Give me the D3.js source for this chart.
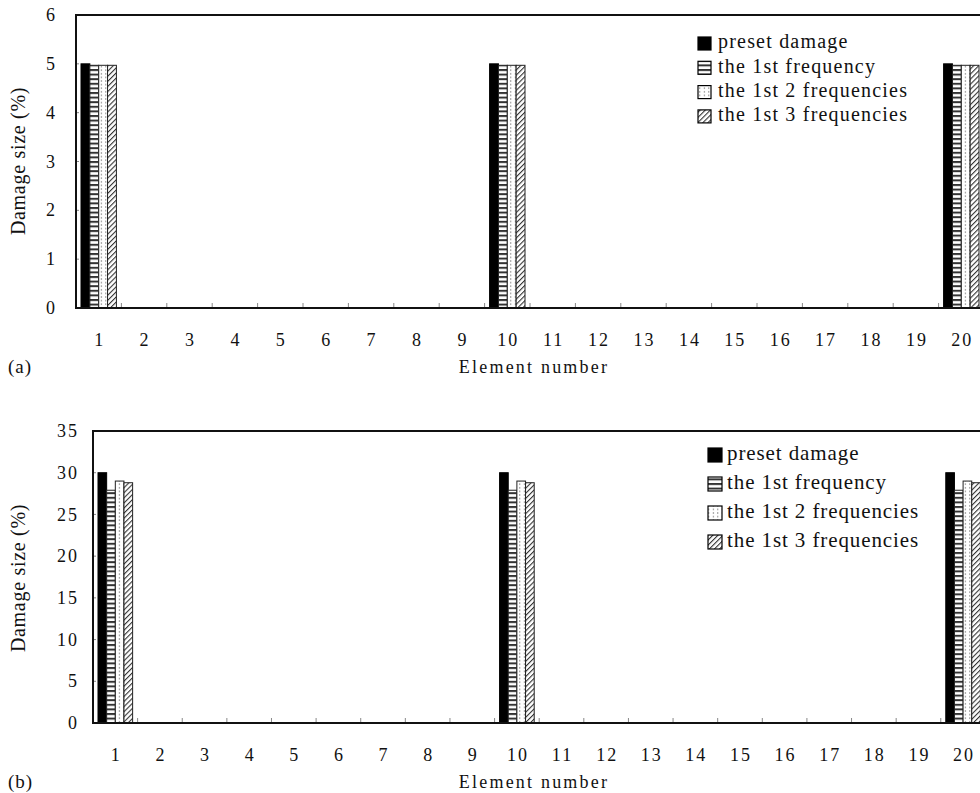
<!DOCTYPE html>
<html>
<head>
<meta charset="utf-8">
<script src="https://cdn.jsdelivr.net/npm/d3@7"></script>
<style>
  html, body { margin: 0; padding: 0; background: #fff; }
  svg { display: block; }
  text { font-family: "Liberation Serif", "Times New Roman", serif; fill: #111; }
</style>
</head>
<body>
<svg id="chart" width="980" height="793"></svg>
<script>
// Element numbers along the beam
const elements = ["1","2","3","4","5","6","7","8","9","10","11","12","13","14","15","16","17","18","19","20"];
const seriesNames = ["preset damage", "the 1st frequency", "the 1st 2 frequencies", "the 1st 3 frequencies"];

// Case (a): 5% damage in elements 1, 10 and 20
const aPreset = [5,0,0,0,0,0,0,0,0,5,0,0,0,0,0,0,0,0,0,5];
const aFreq1  = [4.97,0,0,0,0,0,0,0,0,4.97,0,0,0,0,0,0,0,0,0,4.97];
const aFreq2  = [4.97,0,0,0,0,0,0,0,0,4.97,0,0,0,0,0,0,0,0,0,4.97];
const aFreq3  = [4.97,0,0,0,0,0,0,0,0,4.97,0,0,0,0,0,0,0,0,0,4.97];
const aTicks  = [0,1,2,3,4,5,6];

// Case (b): 30% damage in elements 1, 10 and 20
const bPreset = [30,0,0,0,0,0,0,0,0,30,0,0,0,0,0,0,0,0,0,30];
const bFreq1  = [27.9,0,0,0,0,0,0,0,0,27.9,0,0,0,0,0,0,0,0,0,27.9];
const bFreq2  = [29.0,0,0,0,0,0,0,0,0,29.0,0,0,0,0,0,0,0,0,0,29.0];
const bFreq3  = [28.8,0,0,0,0,0,0,0,0,28.8,0,0,0,0,0,0,0,0,0,28.8];
const bTicks  = [0,5,10,15,20,25,30,35];

const svg = d3.select("#chart");
const defs = svg.append("defs");
const ink = "#222";

// Fill patterns for the four series
const pHoriz = defs.append("pattern").attr("id", "pat-horiz")
  .attr("patternUnits", "userSpaceOnUse").attr("width", 8).attr("height", 4.6);
pHoriz.append("rect").attr("width", 8).attr("height", 4.6).attr("fill", "#fff");
pHoriz.append("rect").attr("y", 0).attr("width", 8).attr("height", 2).attr("fill", "#333");

const pDots = defs.append("pattern").attr("id", "pat-dots")
  .attr("patternUnits", "userSpaceOnUse").attr("width", 4.5).attr("height", 3.6);
pDots.append("rect").attr("width", 4.5).attr("height", 3.6).attr("fill", "#fff");
pDots.append("rect").attr("x", 1.8).attr("y", 1.3).attr("width", 1).attr("height", 1).attr("fill", "#333");

const pHatch = defs.append("pattern").attr("id", "pat-hatch")
  .attr("patternUnits", "userSpaceOnUse").attr("width", 3.6).attr("height", 3.6)
  .attr("patternTransform", "rotate(45)");
pHatch.append("rect").attr("width", 3.6).attr("height", 3.6).attr("fill", "#fff");
pHatch.append("line").attr("x1", 0.5).attr("y1", 0).attr("x2", 0.5).attr("y2", 3.6)
  .attr("stroke", "#333").attr("stroke-width", 1.2);

const fills = ["#000", "url(#pat-horiz)", "url(#pat-dots)", "url(#pat-hatch)"];

function drawPanel(cfg) {
  const series = cfg.series;
  const g = svg.append("g");

  const x = d3.scaleBand().domain(elements)
    .range([cfg.left, cfg.left + cfg.step * elements.length])
    .paddingInner(0).paddingOuter(0);
  const xs = d3.scaleBand().domain(d3.range(series.length))
    .range([cfg.barPad, cfg.step - cfg.barPad]);
  const y = d3.scaleLinear().domain([0, cfg.yMax]).range([cfg.bottom, cfg.top]);

  // bars
  series.forEach((vals, si) => {
    g.append("g").selectAll("rect")
      .data(vals.map((v, i) => ({ v, e: elements[i] })).filter(d => d.v > 0))
      .join("rect")
      .attr("x", d => x(d.e) + xs(si))
      .attr("y", d => y(d.v))
      .attr("width", xs.bandwidth())
      .attr("height", d => y(0) - y(d.v))
      .attr("fill", fills[si])
      .attr("stroke", si === 0 ? "#000" : ink)
      .attr("stroke-width", 1);
  });

  // inward tick marks on the value axis
  g.append("g").selectAll("line").data(cfg.ticks).join("line")
    .attr("x1", cfg.left).attr("x2", cfg.left + 3)
    .attr("y1", d => y(d)).attr("y2", d => y(d))
    .attr("stroke", "#888").attr("stroke-width", 1);

  // inward tick marks between elements
  g.append("g").selectAll("line").data(elements.slice(1)).join("line")
    .attr("x1", d => x(d)).attr("x2", d => x(d))
    .attr("y1", cfg.bottom).attr("y2", cfg.bottom - 5)
    .attr("stroke", "#888").attr("stroke-width", 1);

  // frame: top, left and bottom lines
  g.append("path")
    .attr("d", `M${980},${cfg.top}H${cfg.left}V${cfg.bottom}H${980}`)
    .attr("fill", "none").attr("stroke", "#111").attr("stroke-width", 2);

  // value labels
  g.append("g").selectAll("text").data(cfg.ticks).join("text")
    .attr("x", cfg.valueLabelX).attr("y", d => y(d))
    .attr("dy", "0.34em").attr("text-anchor", "end")
    .style("font-size", "18px").style("letter-spacing", "2px")
    .text(d => d);

  // element labels
  g.append("g").selectAll("text").data(elements).join("text")
    .attr("x", d => x(d) + x.bandwidth() / 2 + 1).attr("y", cfg.bottom + 32)
    .attr("dy", "0.34em").attr("text-anchor", "middle")
    .style("font-size", "18px").style("letter-spacing", "2px")
    .text(d => d);

  g.append("text")
    .attr("x", cfg.titleX).attr("y", cfg.bottom + 59)
    .attr("dy", "0.34em").attr("text-anchor", "middle")
    .style("font-size", "18px").style("letter-spacing", "2.2px")
    .text("Element number");

  g.append("text")
    .attr("x", 8).attr("y", cfg.bottom + 59)
    .attr("dy", "0.34em")
    .style("font-size", "19px").style("letter-spacing", "1px")
    .text(cfg.tag);

  g.append("text")
    .attr("transform", `translate(18,${cfg.yLabelY}) rotate(-90)`)
    .attr("dy", "0.34em").attr("text-anchor", "middle")
    .style("font-size", "20px").style("letter-spacing", "0.7px")
    .text("Damage size (%)");

  // legend
  const lg = g.append("g");
  seriesNames.forEach((name, i) => {
    const yy = cfg.legendY + i * cfg.legendGap;
    lg.append("rect")
      .attr("x", cfg.legendX).attr("y", yy - 5)
      .attr("width", cfg.legendBox).attr("height", cfg.legendBox)
      .attr("fill", fills[i]).attr("stroke", "#000").attr("stroke-width", 1.2);
    lg.append("text")
      .attr("x", cfg.legendTextX).attr("y", yy)
      .attr("dy", "0.32em")
      .style("font-size", cfg.legendFont + "px").style("letter-spacing", cfg.legendSpacing + "px")
      .text(name);
  });
}

drawPanel({
  series: [aPreset, aFreq1, aFreq2, aFreq3],
  ticks: aTicks, yMax: 6,
  left: 76, step: 45.4, barPad: 5,
  top: 15, bottom: 308,
  valueLabelX: 57,
  titleX: 534, yLabelY: 161, tag: "(a)",
  legendX: 698, legendTextX: 718, legendBox: 13,
  legendY: 42, legendGap: 24.3, legendFont: 20, legendSpacing: 1.2
});

drawPanel({
  series: [bPreset, bFreq1, bFreq2, bFreq3],
  ticks: bTicks, yMax: 35,
  left: 93, step: 44.62, barPad: 5,
  top: 431, bottom: 723,
  valueLabelX: 79,
  titleX: 534, yLabelY: 578, tag: "(b)",
  legendX: 708, legendTextX: 727, legendBox: 14,
  legendY: 453, legendGap: 29, legendFont: 21, legendSpacing: 0.9
});
</script>
</body>
</html>
